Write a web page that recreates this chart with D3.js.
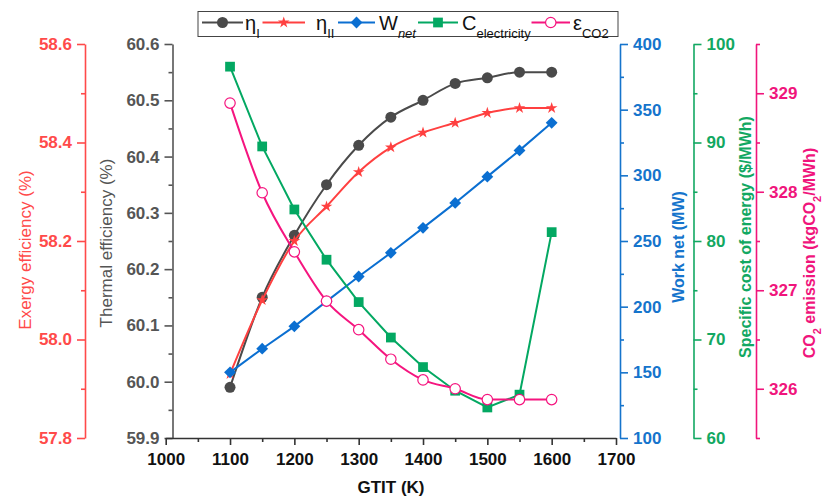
<!DOCTYPE html>
<html>
<head>
<meta charset="utf-8">
<script src="https://cdn.jsdelivr.net/npm/d3@7/dist/d3.min.js"></script>
<style>
  body { margin: 0; background: #fff; }
  svg { display: block; font-family: "Liberation Sans", Arial, sans-serif; }
</style>
</head>
<body>
<div id="chart"></div>
<script>
// values
const gtit = [1100, 1150, 1200, 1250, 1300, 1350, 1400, 1450, 1500, 1550, 1600];
const etaI = [59.99, 60.15, 60.26, 60.35, 60.42, 60.47, 60.50, 60.53, 60.54, 60.55, 60.55];
const etaII = [57.93, 58.08, 58.20, 58.27, 58.34, 58.39, 58.42, 58.44, 58.46, 58.47, 58.47];
const wNet = [150, 168, 185, 204, 223, 241, 260, 279, 299, 319, 340];
const cElec = [97.7, 89.6, 83.2, 78.1, 73.8, 70.2, 67.2, 64.8, 63.1, 64.4, 80.9];
const co2 = [328.9, 327.99, 327.39, 326.89, 326.6, 326.3, 326.09, 326.0, 325.89, 325.89, 325.89];

const xTicks = [1000, 1100, 1200, 1300, 1400, 1500, 1600, 1700];
const thermalTicks = [59.9, 60.0, 60.1, 60.2, 60.3, 60.4, 60.5, 60.6];
const exergyTicks = [57.8, 58.0, 58.2, 58.4, 58.6];
const workTicks = [100, 150, 200, 250, 300, 350, 400];
const costTicks = [60, 70, 80, 90, 100];
const co2Ticks = [326, 327, 328, 329];

(function() {
  const width = 824, height = 497;
  const top = 44, bottom = 438;

  const svg = d3.select("#chart").append("svg")
    .attr("width", width).attr("height", height);

  const x = d3.scaleLinear().domain([1000, 1700]).range([165.7, 616]);
  const yTh = d3.scaleLinear().domain([59.9, 60.6]).range([bottom, top]);
  const yEx = d3.scaleLinear().domain([57.8, 58.6]).range([bottom, top]);
  const yW = d3.scaleLinear().domain([100, 400]).range([bottom, top]);
  const yC = d3.scaleLinear().domain([60, 100]).range([bottom, top]);
  const yCO = d3.scaleLinear().domain([325.5, 329.5]).range([bottom, top]);

  const mids = (ticks, step) => {
    const out = [];
    for (let i = 0; i < ticks.length - 1; i++) out.push(+(ticks[i] + step).toFixed(3));
    return out;
  };

  // draws an axis with major + minor ticks
  function yAxis(scale, side, xPos, ticks, minor, fmt, color) {
    const make = side === "left" ? d3.axisLeft : d3.axisRight;
    const g = svg.append("g").attr("transform", `translate(${xPos},0)`);
    g.append("g")
      .call(make(scale).tickValues(minor).tickSize(4).tickSizeOuter(0).tickFormat(""))
      .call(a => a.select(".domain").remove());
    g.append("g")
      .call(make(scale).tickValues(ticks).tickSize(8).tickSizeOuter(0).tickPadding(5).tickFormat(fmt));
    g.selectAll("line, path").attr("stroke", color).attr("stroke-width", 1.6);
    g.selectAll("text").attr("fill", color)
      .style("font-size", "17px").style("font-weight", "bold");
    return g;
  }

  yAxis(yEx, "left", 85, exergyTicks, mids(exergyTicks, 0.1), d3.format(".1f"), "#ff4a4a");
  yAxis(yTh, "left", 172.5, thermalTicks, mids(thermalTicks, 0.05), d3.format(".1f"), "#555");
  yAxis(yW, "right", 620, workTicks, mids(workTicks, 25), d3.format("d"), "#1574cc");
  yAxis(yC, "right", 693.5, costTicks, mids(costTicks, 5), d3.format("d"), "#12a862");
  yAxis(yCO, "right", 756, co2Ticks, [325.5].concat(mids(co2Ticks, 0.5), [329.5]), d3.format("d"), "#f0157c");

  // x axis
  const gx = svg.append("g").attr("transform", `translate(0,${bottom})`);
  gx.append("g")
    .call(d3.axisBottom(x).tickValues(mids(xTicks, 50)).tickSize(4).tickSizeOuter(0).tickFormat(""))
    .call(a => a.select(".domain").remove());
  gx.append("g")
    .call(d3.axisBottom(x).tickValues(xTicks).tickSize(7).tickSizeOuter(0).tickPadding(8).tickFormat(d3.format("d")));
  gx.selectAll("line, path").attr("stroke", "#333").attr("stroke-width", 1.6);
  gx.selectAll("text").attr("fill", "#111")
    .style("font-size", "17px").style("font-weight", "bold");

  // axis titles
  const title = (tx, ty, rot, color, weight, size) => svg.append("text")
    .attr("transform", `translate(${tx},${ty}) rotate(${rot})`)
    .attr("text-anchor", "middle")
    .attr("fill", color)
    .style("font-size", size + "px")
    .style("font-weight", weight);

  title(31, 250, -90, "#ff4a4a", "normal", 17).text("Exergy efficiency (%)");
  title(112, 243, -90, "#555", "normal", 17).text("Thermal efficiency (%)");
  title(684, 247, -90, "#1574cc", "bold", 16).text("Work net (MW)");
  title(751, 237, -90, "#12a862", "bold", 16).text("Specific cost of energy ($/MWh)");
  const co2t = title(815, 253, -90, "#f0157c", "bold", 16);
  co2t.append("tspan").text("CO");
  co2t.append("tspan").attr("baseline-shift", "sub").style("font-size", "11px").text("2");
  co2t.append("tspan").text(" emission (kgCO");
  co2t.append("tspan").attr("baseline-shift", "sub").style("font-size", "11px").text("2");
  co2t.append("tspan").text("/MWh)");
  title(391, 493, 0, "#111", "bold", 17).text("GTIT (K)");

  // series
  const diamond = d3.symbol().type(d3.symbolSquare).size(70);
  const series = [
    { vals: etaI, y: yTh, color: "#4a4a4a", curve: d3.curveMonotoneX, sym: d3.symbol().type(d3.symbolCircle).size(95), fill: "#4a4a4a", rot: 0 },
    { vals: etaII, y: yEx, color: "#ff4040", curve: d3.curveMonotoneX, sym: d3.symbol().type(d3.symbolStar).size(42), fill: "#ff4040", rot: 0 },
    { vals: wNet, y: yW, color: "#0b6fd1", curve: d3.curveLinear, sym: diamond, fill: "#0b6fd1", rot: 45 },
    { vals: cElec, y: yC, color: "#03a862", curve: d3.curveLinear, sym: d3.symbol().type(d3.symbolSquare).size(95), fill: "#03a862", rot: 0 },
    { vals: co2, y: yCO, color: "#f5157f", curve: d3.curveMonotoneX, sym: d3.symbol().type(d3.symbolCircle).size(85), fill: "#fff", rot: 0 }
  ];

  series.forEach(s => {
    const pts = gtit.map((g, i) => [x(g), s.y(s.vals[i])]);
    svg.append("path")
      .attr("d", d3.line().curve(s.curve)(pts))
      .attr("fill", "none").attr("stroke", s.color).attr("stroke-width", 2);
    svg.append("g").selectAll("path").data(pts).join("path")
      .attr("transform", d => `translate(${d[0]},${d[1]}) rotate(${s.rot})`)
      .attr("d", s.sym())
      .attr("fill", s.fill)
      .attr("stroke", s.fill === "#fff" ? s.color : "none")
      .attr("stroke-width", 1.2);
  });

  // legend
  const legend = svg.append("g");
  legend.append("rect").attr("x", 198).attr("y", 11.5).attr("width", 420).attr("height", 25)
    .attr("fill", "#fff").attr("stroke", "#444").attr("stroke-width", 1);

  const legendItems = [
    { s: series[0], x0: 202, x1: 243, tx: 245, main: "η", sub: "I", italic: false },
    { s: series[1], x0: 262.5, x1: 305, tx: 316, main: "η", sub: "II", italic: false },
    { s: series[2], x0: 338, x1: 375, tx: 379, main: "W", sub: "net", italic: true },
    { s: series[3], x0: 418, x1: 458, tx: 462, main: "C", sub: "electricity", italic: false },
    { s: series[4], x0: 531.5, x1: 570, tx: 573, main: "ε", sub: "CO2", italic: false }
  ];
  legendItems.forEach(it => {
    const cy = 22.5;
    legend.append("line").attr("x1", it.x0).attr("x2", it.x1).attr("y1", cy).attr("y2", cy)
      .attr("stroke", it.s.color).attr("stroke-width", 2);
    legend.append("path")
      .attr("transform", `translate(${(it.x0 + it.x1) / 2},${cy}) rotate(${it.s.rot})`)
      .attr("d", it.s.sym())
      .attr("fill", it.s.fill)
      .attr("stroke", it.s.fill === "#fff" ? it.s.color : "none")
      .attr("stroke-width", 1.2);
    const t = legend.append("text").attr("x", it.tx).attr("y", 30)
      .attr("fill", "#111").style("font-size", "20px");
    t.append("tspan").text(it.main);
    t.append("tspan").attr("baseline-shift", "sub").style("font-size", "13px")
      .style("font-style", it.italic ? "italic" : "normal").text(it.sub);
  });
})();
</script>
</body>
</html>
